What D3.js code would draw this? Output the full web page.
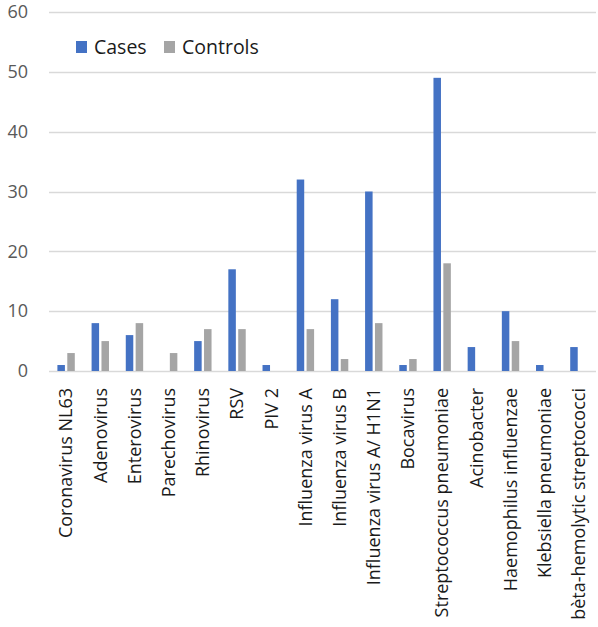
<!DOCTYPE html>
<html><head><meta charset="utf-8">
<script src="https://cdn.jsdelivr.net/npm/d3@7"></script>
<style>body{margin:0;background:#fff;}svg{display:block;}</style>
</head><body>
<svg id="c" width="598" height="627"></svg>
<script>
const categories = ["Coronavirus NL63","Adenovirus","Enterovirus","Parechovirus","Rhinovirus","RSV","PIV 2","Influenza virus A","Influenza virus B","Influenza virus A/ H1N1","Bocavirus","Streptococcus pneumoniae","Acinobacter","Haemophilus influenzae","Klebsiella pneumoniae","bèta-hemolytic streptococci"];
const cases =    [1, 8, 6, 0, 5, 17, 1, 32, 12, 30, 1, 49, 4, 10, 1, 4];
const controls = [3, 5, 8, 3, 7, 7, 0, 7, 2, 8, 2, 18, 0, 5, 0, 0];
const seriesNames = ["Cases","Controls"];
const colors = ["#4472C4","#A5A5A5"];
const yTicks = [0,10,20,30,40,50,60];

const svg = d3.select("#c");
const mLeft = 49, mRight = 596, mTop = 12, mBottom = 371;
const font = "'Open Sans', 'Liberation Sans', sans-serif";

const x = d3.scaleBand().domain(categories).range([mLeft, mRight]).paddingInner(0).paddingOuter(0);
const y = d3.scaleLinear().domain([0, 60]).range([mBottom, mTop]);
const xs = d3.scaleBand().domain(seriesNames).range([0, x.bandwidth()]).paddingInner(0.24).paddingOuter(0.85);

// gridlines
svg.append("g").selectAll("line").data(yTicks).join("line")
  .attr("x1", mLeft).attr("x2", mRight)
  .attr("y1", d => Math.round(y(d)) + 0.5).attr("y2", d => Math.round(y(d)) + 0.5)
  .attr("stroke", "#d9d9d9").attr("stroke-width", 1.3);

// y labels
const yAxis = d3.axisLeft(y).tickValues(yTicks).tickSize(0).tickPadding(21);
const ga = svg.append("g").attr("transform", `translate(${mLeft},0)`).call(yAxis);
ga.select(".domain").remove();
ga.selectAll("text").attr("font-family", font).attr("font-size", 18).attr("fill", "#595959");

// bars
const data = categories.map((c, i) => ({c, vals: [cases[i], controls[i]]}));
const groups = svg.append("g").selectAll("g").data(data).join("g")
  .attr("transform", d => `translate(${x(d.c)},0)`);
groups.selectAll("rect").data(d => d.vals.map((v, j) => ({v, s: seriesNames[j], j})))
  .join("rect")
  .attr("x", d => xs(d.s)).attr("width", xs.bandwidth())
  .attr("y", d => y(d.v)).attr("height", d => y(0) - y(d.v))
  .attr("fill", d => colors[d.j]);

// x labels
const xAxis = d3.axisBottom(x).tickSize(0).tickPadding(0);
const gx = svg.append("g").attr("transform", `translate(0,${mBottom})`).call(xAxis);
gx.select(".domain").remove();
gx.selectAll("text")
  .attr("font-family", font).attr("font-size", 18).attr("fill", "#1a1a1a")
  .attr("transform", "rotate(-90)")
  .attr("text-anchor", "end").attr("dy", "0.35em").attr("x", -17).attr("y", 0);

// legend
const leg = svg.append("g");
const legX = [76, 164];
seriesNames.forEach((s, i) => {
  leg.append("rect").attr("x", legX[i]).attr("y", 41).attr("width", 11).attr("height", 12).attr("fill", colors[i]);
  leg.append("text").attr("x", legX[i] + 18).attr("y", 54).text(s)
    .attr("font-family", font).attr("font-size", 19.5).attr("fill", "#1a1a1a");
});
</script>
</body></html>
